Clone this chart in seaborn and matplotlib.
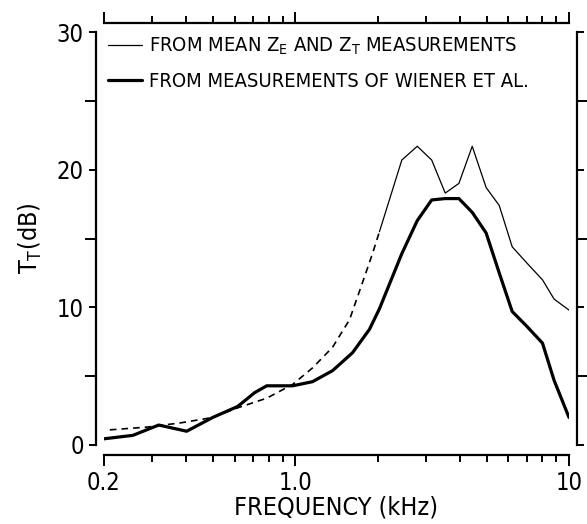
import numpy as np
import pandas as pd
import matplotlib
matplotlib.use('Agg')
import matplotlib.pyplot as plt
import seaborn as sns

# ----- values -----
# thin line: from mean Z_E and Z_T measurements (solid part)
thin_freq = [2.03, 2.45, 2.79, 3.15, 3.53, 3.96, 4.43, 4.98, 5.56, 6.20, 7.03, 8.0, 8.82, 10.0]
thin_db = [15.5, 20.7, 21.7, 20.7, 18.3, 19.0, 21.7, 18.7, 17.4, 14.4, 13.2, 12.0, 10.6, 9.8]

# dashed continuation of the thin line at low frequency
dash_freq = [0.21, 0.287, 0.379, 0.499, 0.616, 0.786, 0.978, 1.156, 1.368, 1.578, 1.76, 1.914, 2.03]
dash_db = [1.1, 1.3, 1.6, 2.0, 2.7, 3.4, 4.4, 5.6, 7.1, 9.1, 11.8, 13.9, 15.5]

# thick line: from measurements of Wiener et al.
thick_freq = [0.2, 0.255, 0.317, 0.401, 0.499, 0.616, 0.71, 0.786, 0.978, 1.156, 1.368,
              1.618, 1.866, 2.03, 2.45, 2.79, 3.15, 3.53, 3.96, 4.43, 4.98, 5.56, 6.20,
              7.03, 8.0, 8.82, 10.0]
thick_db = [0.45, 0.7, 1.45, 1.0, 2.0, 2.8, 3.8, 4.3, 4.3, 4.6, 5.4, 6.7, 8.4, 9.9, 13.9,
            16.3, 17.8, 17.9, 17.9, 16.9, 15.4, 12.5, 9.7, 8.6, 7.4, 4.7, 2.0]

x_major = [0.2, 1.0, 10.0]
x_major_labels = ['0.2', '1.0', '10']
x_minor = [0.3, 0.4, 0.5, 0.6, 0.7, 0.8, 0.9, 2, 3, 4, 5, 6, 7, 8, 9]
y_major = [0, 10, 20, 30]
y_minor = [5, 15, 25]

label_thin = r'FROM MEAN Z$_\mathrm{E}$ AND Z$_\mathrm{T}$ MEASUREMENTS'
label_thick = 'FROM MEASUREMENTS OF WIENER ET AL.'

sns.set_style('ticks')
plt.rcParams['font.family'] = ['DejaVu Sans']
plt.rcParams['font.stretch'] = 'condensed'
plt.rcParams['mathtext.fontset'] = 'custom'
plt.rcParams['mathtext.rm'] = 'DejaVu Sans:stretch=condensed'
for key in ['text.color', 'axes.labelcolor', 'xtick.color', 'ytick.color', 'axes.edgecolor']:
    plt.rcParams[key] = 'black'

fig = plt.figure(figsize=(5.87, 5.24), dpi=100)
ax = fig.add_axes([104 / 587, 1 - 445 / 524, (569 - 104) / 587, (445 - 32) / 524])

sns.lineplot(x=thin_freq, y=thin_db, ax=ax, color='black', linewidth=0.9, label=label_thin)
sns.lineplot(x=thick_freq, y=thick_db, ax=ax, color='black', linewidth=2.3, label=label_thick)
sns.lineplot(x=dash_freq, y=dash_db, ax=ax, color='black', linewidth=1.2,
             linestyle=(0, (4, 3)))

ax.set_xscale('log')
ax.set_xlim(0.2, 10)
ax.set_ylim(0, 30)

# detached frame
for side in ['left', 'right']:
    ax.spines[side].set_visible(True)
    ax.spines[side].set_position(('outward', 6))
    ax.spines[side].set_bounds(0, 30)
    ax.spines[side].set_linewidth(1.6)
for side in ['top', 'bottom']:
    ax.spines[side].set_visible(True)
    ax.spines[side].set_position(('outward', 7))
    ax.spines[side].set_bounds(0.2, 10)
    ax.spines[side].set_linewidth(1.6)
ax.spines['top'].set_position(('outward', 6.5))

ax.set_xticks(x_major)
ax.set_xticklabels(x_major_labels)
ax.set_xticks(x_minor, minor=True)
ax.set_xticklabels([], minor=True)
ax.set_yticks(y_major)
ax.set_yticks(y_minor, minor=True)

ax.tick_params(axis='x', which='both', direction='out', top=True, bottom=True,
               labeltop=False, width=1.4, labelsize=17)
ax.tick_params(axis='x', which='major', length=8)
ax.tick_params(axis='x', which='minor', length=5)
ax.tick_params(axis='y', which='both', direction='out', left=True, right=True,
               labelright=False, width=1.4, labelsize=17)
ax.tick_params(axis='y', which='major', length=5)
ax.tick_params(axis='y', which='minor', length=8)

ax.set_xlabel('FREQUENCY (kHz)', fontsize=18)
ax.set_ylabel(r'T$_\mathrm{T}$(dB)', fontsize=18)
ax.xaxis.set_label_coords(0.5, -0.122)
ax.yaxis.set_label_coords(-0.129, 0.5)

ax.legend(loc='upper left', frameon=False, fontsize=14.5, handlelength=1.7,
          handletextpad=0.35, borderaxespad=0.15, borderpad=0.05, labelspacing=0.75)

fig.savefig('out.png', dpi=100)
